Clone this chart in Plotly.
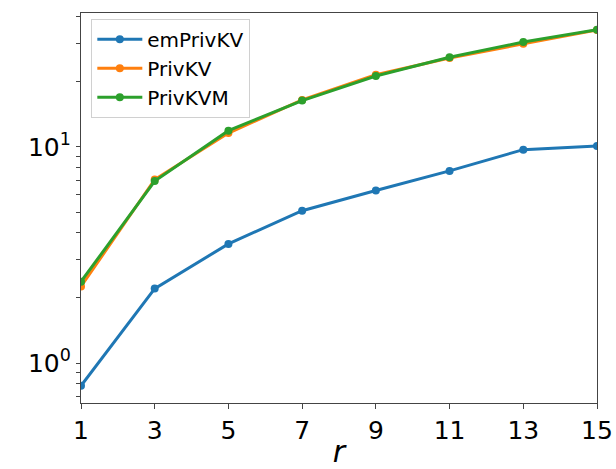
import plotly.graph_objects as go

r_vals = [1, 3, 5, 7, 9, 11, 13, 15]
em_privkv = [0.785, 2.21, 3.56, 5.07, 6.29, 7.75, 9.72, 10.1]
privkv = [2.26, 7.07, 11.6, 16.5, 21.6, 25.8, 30.0, 34.8]
privkvm = [2.38, 6.95, 11.9, 16.4, 21.3, 26.0, 30.6, 34.9]
series_names = ["emPrivKV", "PrivKV", "PrivKVM"]
colors = ["#1f77b4", "#ff7f0e", "#2ca02c"]
x_ticks = [1, 3, 5, 7, 9, 11, 13, 15]
y_major = {1: "10<sup>0</sup>", 10: "10<sup>1</sup>"}
y_minor = [0.7, 0.8, 0.9, 2, 3, 4, 5, 6, 7, 8, 9, 20, 30, 40]

y_tickvals = sorted(list(y_major.keys()) + y_minor)
y_ticktext = [y_major.get(v, "") for v in y_tickvals]

fig = go.Figure()
for name, ys, c in zip(series_names, [em_privkv, privkv, privkvm], colors):
    fig.add_trace(go.Scatter(
        x=r_vals, y=ys, name=name, mode="lines+markers",
        line=dict(color=c, width=3), marker=dict(color=c, size=8),
    ))

axis_font = dict(family="DejaVu Sans", size=25, color="black")
fig.update_layout(
    width=616, height=469,
    margin=dict(l=81, r=19, t=13, b=66),
    paper_bgcolor="white", plot_bgcolor="white",
    font=dict(family="DejaVu Sans", color="black"),
    showlegend=True,
    legend=dict(
        x=0.02, y=0.985, xanchor="left", yanchor="top",
        bgcolor="rgba(255,255,255,0.8)", bordercolor="#d0d0d0", borderwidth=1,
        font=dict(family="DejaVu Sans", size=20, color="black"),
        tracegroupgap=0, itemwidth=45,
    ),
    xaxis=dict(
        range=[1, 15], tickvals=x_ticks, ticktext=[str(t) for t in x_ticks],
        tickfont=axis_font, ticks="outside", ticklen=5, tickcolor="#444",
        showline=True, linecolor="#444", linewidth=1.2, mirror=True,
        showgrid=False, zeroline=False, automargin=False,
        title=dict(text="<i>r</i>", font=dict(family="DejaVu Sans", size=30, color="black"), standoff=0),
    ),
    yaxis=dict(
        type="log", range=[-0.185, 1.62],
        tickmode="array", tickvals=y_tickvals, ticktext=y_ticktext, tickfont=axis_font,
        ticks="outside", ticklen=4, tickcolor="#444",
        showline=True, linecolor="#444", linewidth=1.2, mirror=True,
        showgrid=False, zeroline=False, automargin=False,
    ),
)

fig.write_html("out.html")
